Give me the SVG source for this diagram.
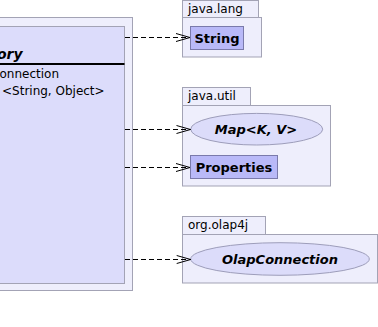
<svg xmlns="http://www.w3.org/2000/svg" width="378" height="327" viewBox="0 0 378 327">
  <style>
    .pkg { fill: #eeeefc; stroke: #a3a3b5; stroke-width: 1; }
    .cls { fill: #dcdcfb; stroke: #a3a3b5; stroke-width: 1; }
    .box { fill: #b9b9f8; stroke: #7a7aab; stroke-width: 1; }
    .ell { fill: #dcdcfa; stroke: #9d9dba; stroke-width: 1; }
    text { font-family: "DejaVu Sans", Verdana, sans-serif; fill: #000; }
    .plabel { font-size: 12px; }
    .member { font-size: 12px; }
    .name { font-size: 13px; font-weight: bold; text-anchor: middle; }
    .iname { font-size: 13px; font-weight: bold; font-style: italic; text-anchor: middle; }
    .head { font-size: 14px; font-weight: bold; font-style: italic; }
    .dep { fill: none; stroke: #000; stroke-width: 1; stroke-dasharray: 5,3; }
    .arrow { fill: none; stroke: #000; stroke-width: 1; }
  </style>

  <!-- enclosing package with the factory class -->
  <g id="factory">
    <rect class="pkg" x="-5" y="17.5" width="137.5" height="273"/>
    <rect class="cls" x="-5" y="26.5" width="129.5" height="257"/>
    <text class="head" x="-3" y="59">ory</text>
    <line x1="-5" y1="64" x2="124.5" y2="64" stroke="#000" stroke-width="2"/>
    <text class="member" x="-0.5" y="78">onnection</text>
    <text class="member" x="2" y="95">&lt;String, Object&gt;</text>
  </g>

  <!-- java.lang -->
  <g id="pkg-java-lang">
    <rect class="pkg" x="182.5" y="0.5" width="76" height="17"/>
    <rect class="pkg" x="182.5" y="17.5" width="79" height="39.5"/>
    <text class="plabel" x="188" y="13">java.lang</text>
  </g>
  <g id="String">
    <rect class="box" x="190.5" y="26.5" width="53" height="23"/>
    <text class="name" x="217" y="42.5">String</text>
  </g>

  <!-- java.util -->
  <g id="pkg-java-util">
    <rect class="pkg" x="182.5" y="87.5" width="68" height="18"/>
    <rect class="pkg" x="182.5" y="105.5" width="148" height="80.5"/>
    <text class="plabel" x="188" y="100">java.util</text>
  </g>
  <g id="Map">
    <ellipse class="ell" cx="256.7" cy="129.2" rx="66" ry="15.8"/>
    <text class="iname" x="256" y="134">Map&lt;K, V&gt;</text>
  </g>
  <g id="Properties">
    <rect class="box" x="190.5" y="155.5" width="87" height="23"/>
    <text class="name" x="234" y="171.5">Properties</text>
  </g>

  <!-- org.olap4j -->
  <g id="pkg-org-olap4j">
    <rect class="pkg" x="182.5" y="216.5" width="83" height="18"/>
    <rect class="pkg" x="182.5" y="234.5" width="195" height="48.5"/>
    <text class="plabel" x="188" y="229">org.olap4j</text>
  </g>
  <g id="OlapConnection">
    <ellipse class="ell" cx="280" cy="259" rx="89.3" ry="16.3"/>
    <text class="iname" x="280" y="263.5">OlapConnection</text>
  </g>

  <!-- dependency connectors -->
  <g id="connectors">
    <line class="dep" x1="125" y1="37.5" x2="190" y2="37.5"/>
    <polyline class="arrow" points="176,33.5 190,37.5 176,41.5"/>
    <line class="dep" x1="125" y1="129.5" x2="190.5" y2="129.5"/>
    <polyline class="arrow" points="176.5,125.5 190.5,129.5 176.5,133.5"/>
    <line class="dep" x1="125" y1="167.5" x2="190" y2="167.5"/>
    <polyline class="arrow" points="176,163.5 190,167.5 176,171.5"/>
    <line class="dep" x1="125" y1="259.5" x2="190.7" y2="259.5"/>
    <polyline class="arrow" points="176.7,255.5 190.7,259.5 176.7,263.5"/>
  </g>
</svg>
